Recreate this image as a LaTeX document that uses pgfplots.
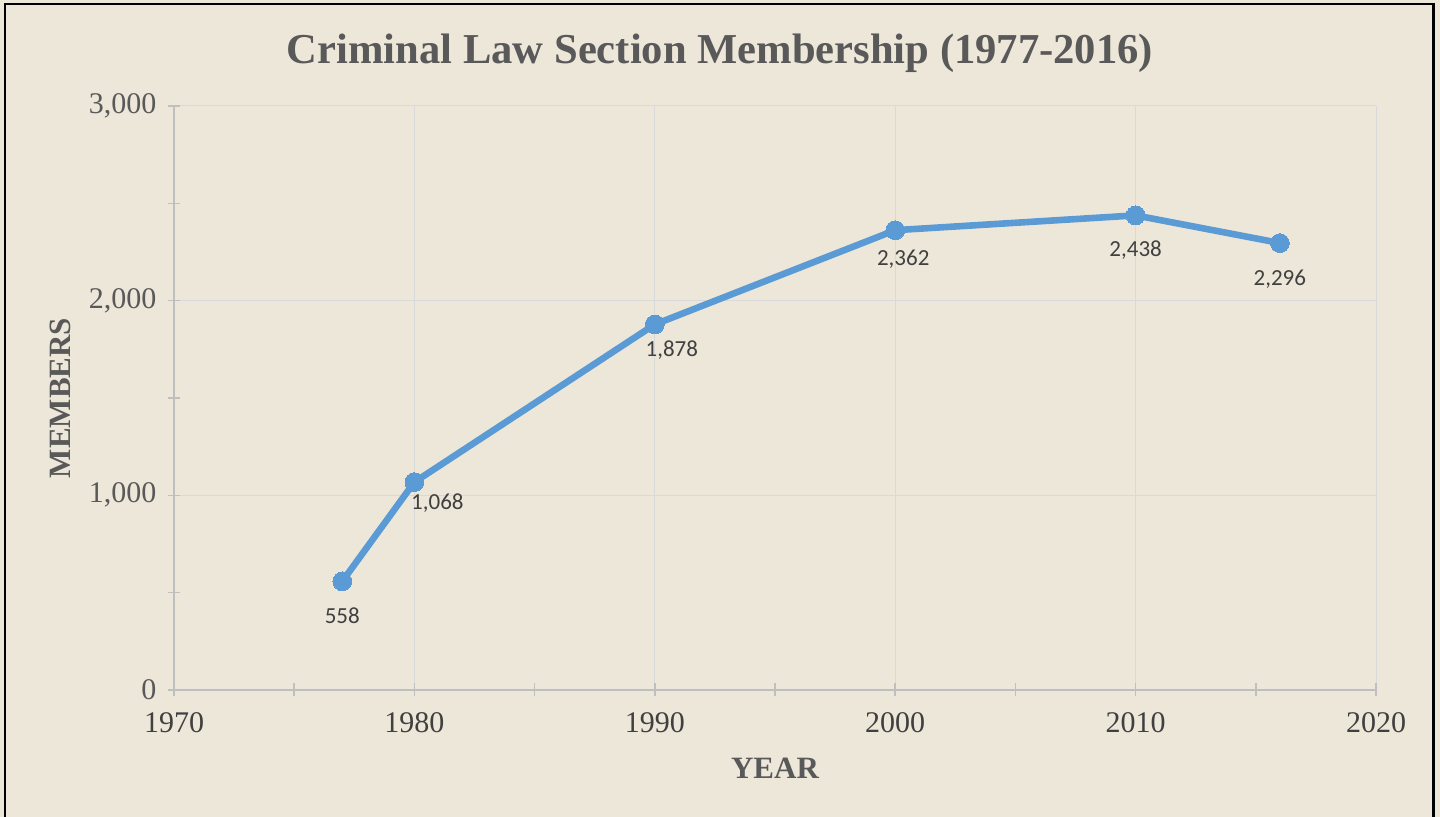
\documentclass[border=0pt]{standalone}
\usepackage{fontspec}
\setmainfont{Liberation Serif}
\newfontfamily\calibri{Carlito}
\usepackage{pgfplots}
\pgfplotsset{compat=1.18}
\definecolor{bg}{HTML}{EDE7DA}
\definecolor{linec}{HTML}{5B9BD5}
\definecolor{axisc}{HTML}{BFBFBF}
\definecolor{gridc}{HTML}{D9D9D9}
\definecolor{titlec}{HTML}{595959}
\definecolor{textc}{HTML}{404040}
\begin{document}
\begin{tikzpicture}
\path[use as bounding box, fill=bg] (0,0) rectangle (720pt,408.5pt);
\draw[black, line width=1.2pt] (2.5pt,-5pt) rectangle (716.8pt,406.6pt);
\node[font=\bfseries\fontsize{21.3}{25}\selectfont, text=titlec] at (360pt,382pt) {Criminal Law Section Membership (1977-2016)};
\begin{axis}[
  at={(87pt,63.5pt)}, anchor=south west,
  scale only axis, width=601pt, height=292pt,
  xmin=1970, xmax=2020, ymin=0, ymax=3000,
  xtick={1970,1980,...,2020}, ytick={0,1000,2000,3000},
  minor xtick={1975,1985,...,2015}, minor ytick={500,1500,2500},
  axis x line*=bottom, axis y line*=left,
  axis line style={axisc, line width=0.8pt},
  tick align=center, major tick length=6.5pt, minor tick length=6.5pt,
  every tick/.style={axisc, line width=0.8pt},
  xmajorgrids, ymajorgrids, grid style={gridc, line width=0.5pt},
  /pgf/number format/assume math mode=true,
  tick label style={font=\fontsize{15}{17}\selectfont},
  x tick label style={/pgf/number format/1000 sep=, yshift=-4.5pt, text=textc},
  y tick label style={/pgf/number format/1000 sep={,}, xshift=-2pt, text=titlec},
  xlabel={YEAR}, ylabel={MEMBERS},
  label style={font=\bfseries\fontsize{15.5}{18}\selectfont, text=titlec},
  xlabel style={at={(axis description cs:0.5,0)}, anchor=center, yshift=-39pt},
  ylabel style={at={(axis description cs:0,0.5)}, anchor=center, rotate=0, yshift=57pt},
  clip=false,
]
\addplot[linec, line width=3.3pt, mark=*, mark size=4.7pt,
  mark options={fill=linec, draw=linec, line width=0pt},
  nodes near coords,
  visualization depends on={\thisrow{dx}\as\dx},
  visualization depends on={\thisrow{dy}\as\dy},
  every node near coord/.style={anchor=center, xshift=\dx pt, yshift=\dy pt,
    font=\calibri\fontsize{11.5}{13}\selectfont, text=textc,
    /pgf/number format/1000 sep={,}, /pgf/number format/assume math mode=true},
] table {
x y dx dy
1977 558 0 -17
1980 1068 11.5 -10.5
1990 1878 8.5 -13
2000 2362 4 -14.5
2010 2438 0 -17.5
2016 2296 0 -18
};
\end{axis}
\end{tikzpicture}
\end{document}
